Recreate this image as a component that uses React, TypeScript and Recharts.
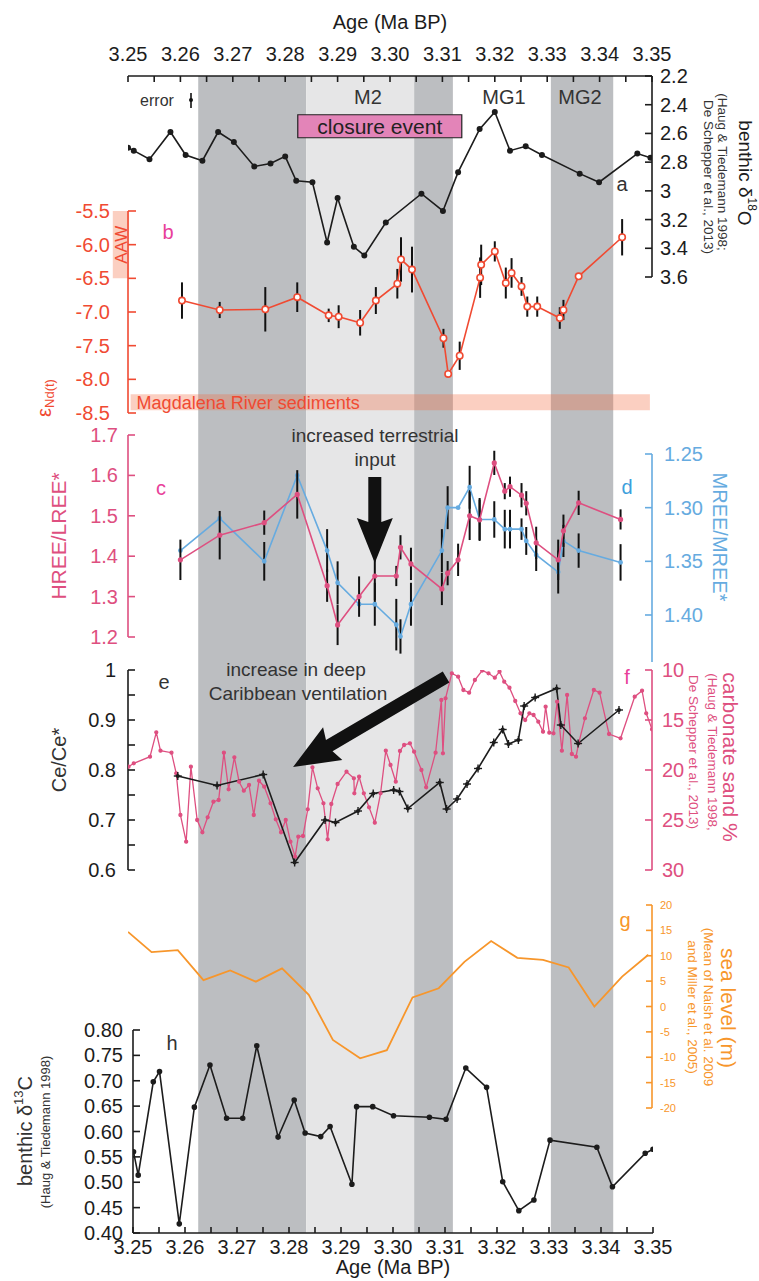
import React from "react";
import { ComposedChart, Line, XAxis, YAxis, ReferenceArea, ReferenceLine, ErrorBar } from "recharts";

const FONT = '"Liberation Sans", Arial, Helvetica, sans-serif';
const W = 759;
const H = 1281;

const INK = "#1c1c1c";
const GRAY = "#333333";
const RED = "#f04a32";
const PINK = "#de4f80";
const MAGENTA = "#e8409a";
const BLUE = "#66abe0";
const ORANGE = "#f7962b";
const DARK = "#bcbec1";
const LIGHT = "#e6e6e7";

// shared age axis
const ageDomain = [3.25, 3.35];
const ageTicks = [3.25, 3.255, 3.26, 3.265, 3.27, 3.275, 3.28, 3.285, 3.29, 3.295, 3.3, 3.305, 3.31, 3.315, 3.32, 3.325, 3.33, 3.335, 3.34, 3.345, 3.35];
const ageLabels = ["3.25", "", "3.26", "", "3.27", "", "3.28", "", "3.29", "", "3.30", "", "3.31", "", "3.32", "", "3.33", "", "3.34", "", "3.35"];

// glacial bands
const darkBands = [[3.2634, 3.284], [3.3046, 3.312], [3.3307, 3.3426]];
const lightBands = [[3.284, 3.3046]];

// a: benthic d18O
const d18oAge = [3.25, 3.2511, 3.2541, 3.2581, 3.261, 3.2642, 3.2672, 3.2702, 3.2741, 3.2772, 3.28, 3.2821, 3.2852, 3.288, 3.29, 3.2931, 3.2951, 3.2992, 3.306, 3.3101, 3.313, 3.3171, 3.32, 3.3229, 3.3259, 3.329, 3.3362, 3.3399, 3.3472, 3.3497];
const d18oVal = [2.7, 2.72, 2.78, 2.59, 2.75, 2.79, 2.59, 2.66, 2.83, 2.81, 2.76, 2.93, 2.94, 3.36, 3.05, 3.39, 3.45, 3.22, 3.02, 3.14, 2.87, 2.57, 2.45, 2.72, 2.69, 2.75, 2.88, 2.94, 2.74, 2.77];
const d18oTicks = [2.2, 2.4, 2.6, 2.8, 3.0, 3.2, 3.4, 3.6];
const d18oLabels = ["2.2", "2.4", "2.6", "2.8", "3", "3.2", "3.4", "3.6"];

// b: eNd
const ndAge = [3.2603, 3.2675, 3.2762, 3.2823, 3.2883, 3.2902, 3.2943, 3.2973, 3.3014, 3.3021, 3.3042, 3.3102, 3.3111, 3.3133, 3.3172, 3.3174, 3.32, 3.3221, 3.3232, 3.3251, 3.3262, 3.3281, 3.3324, 3.3331, 3.336, 3.3443];
const ndVal = [-6.83, -6.97, -6.96, -6.78, -7.05, -7.07, -7.16, -6.83, -6.58, -6.22, -6.37, -7.39, -7.92, -7.65, -6.49, -6.3, -6.1, -6.57, -6.42, -6.62, -6.92, -6.92, -7.09, -6.97, -6.47, -5.89];
const ndErr = [0.27, 0.12, 0.33, 0.22, 0.1, 0.17, 0.19, 0.2, 0.22, 0.33, 0.34, 0.14, 0.05, 0.21, 0.3, 0.3, 0.15, 0.23, 0.22, 0.14, 0.15, 0.15, 0.16, 0.15, 0, 0.27];
const ndTicks = [-8.5, -8, -7.5, -7, -6.5, -6, -5.5];
const ndLabels = ["-8.5", "-8.0", "-7.5", "-7.0", "-6.5", "-6.0", "-5.5"];

// c, d: REE ratios
const reeAge = [3.26, 3.2675, 3.276, 3.2823, 3.288, 3.29, 3.2941, 3.2971, 3.3012, 3.302, 3.304, 3.3099, 3.311, 3.313, 3.3152, 3.3171, 3.3199, 3.3219, 3.3229, 3.3251, 3.326, 3.3279, 3.3321, 3.3331, 3.336, 3.344];
const hreeVal = [1.391, 1.452, 1.483, 1.553, 1.327, 1.23, 1.3, 1.351, 1.351, 1.422, 1.381, 1.319, 1.358, 1.391, 1.5, 1.49, 1.631, 1.561, 1.572, 1.551, 1.531, 1.433, 1.391, 1.463, 1.532, 1.491];
const hreeErr = [0.05, 0.06, 0.03, 0.06, 0.04, 0.05, 0.05, 0.06, 0.025, 0.03, 0.04, 0.04, 0.03, 0.04, 0.06, 0.05, 0.03, 0.02, 0.025, 0.03, 0.03, 0.04, 0.05, 0.04, 0.03, 0.025];
const mreeVal = [1.34, 1.31, 1.35, 1.27, 1.34, 1.37, 1.39, 1.39, 1.409, 1.42, 1.39, 1.34, 1.3, 1.3, 1.281, 1.311, 1.311, 1.32, 1.32, 1.32, 1.331, 1.344, 1.36, 1.331, 1.34, 1.351];
const mreeErr = [0, 0, 0.018, 0, 0.02, 0.02, 0, 0.02, 0.024, 0.016, 0.02, 0.02, 0.02, 0, 0.02, 0.02, 0.017, 0.018, 0.018, 0.01, 0.013, 0.015, 0.02, 0.015, 0.016, 0.017];
const hreeTicks = [1.2, 1.3, 1.4, 1.5, 1.6, 1.7];
const hreeLabels = ["1.2", "1.3", "1.4", "1.5", "1.6", "1.7"];
const mreeTicks = [1.25, 1.3, 1.35, 1.4];
const mreeLabels = ["1.25", "1.30", "1.35", "1.40"];

// e: Ce/Ce*
const ceAge = [3.2595, 3.267, 3.2758, 3.2818, 3.2876, 3.2896, 3.2939, 3.2968, 3.3007, 3.3018, 3.3034, 3.3095, 3.3108, 3.3128, 3.3147, 3.3168, 3.3198, 3.3215, 3.3226, 3.3245, 3.3256, 3.3277, 3.3318, 3.3326, 3.3359, 3.3437];
const ceVal = [0.788, 0.769, 0.791, 0.615, 0.7, 0.695, 0.718, 0.753, 0.76, 0.757, 0.723, 0.775, 0.722, 0.742, 0.772, 0.803, 0.855, 0.881, 0.852, 0.86, 0.928, 0.945, 0.963, 0.89, 0.853, 0.92];
const ceTicks = [0.6, 0.65, 0.7, 0.75, 0.8, 0.85, 0.9, 0.95, 1];
const ceLabels = ["0.6", "", "0.7", "", "0.8", "", "0.9", "", "1"];

// f: carbonate sand %
const carbAge = [3.2501, 3.2511, 3.2542, 3.2554, 3.2562, 3.2583, 3.2592, 3.26, 3.2611, 3.262, 3.2632, 3.2642, 3.2652, 3.2663, 3.2673, 3.2683, 3.2692, 3.2703, 3.2712, 3.2721, 3.2731, 3.274, 3.275, 3.276, 3.2772, 3.2782, 3.2792, 3.2801, 3.281, 3.2819, 3.2825, 3.2834, 3.2843, 3.2852, 3.2862, 3.2873, 3.2881, 3.2888, 3.29, 3.2917, 3.2931, 3.2932, 3.2941, 3.295, 3.296, 3.2971, 3.2982, 3.2992, 3.3001, 3.3011, 3.3019, 3.3027, 3.3038, 3.3046, 3.306, 3.3069, 3.3087, 3.3098, 3.3101, 3.3106, 3.3118, 3.313, 3.314, 3.3151, 3.3162, 3.3176, 3.3188, 3.32, 3.3209, 3.3218, 3.3228, 3.3239, 3.3249, 3.3258, 3.3266, 3.3274, 3.3283, 3.3292, 3.3297, 3.3304, 3.3312, 3.3319, 3.3328, 3.3338, 3.3347, 3.3355, 3.336, 3.3372, 3.3389, 3.34, 3.3418, 3.344, 3.3467, 3.3481, 3.3489, 3.35];
const carbVal = [19.67, 19.33, 18.67, 16.23, 18.07, 18.27, 20.33, 24.5, 27.17, 19.67, 25.0, 26.23, 24.73, 23.17, 23.0, 18.27, 21.93, 18.73, 21.17, 22.07, 21.5, 24.5, 21.07, 21.67, 23.33, 24.93, 26.23, 25.0, 27.17, 28.67, 26.67, 26.6, 23.93, 19.73, 21.83, 23.33, 26.93, 23.4, 21.4, 20.17, 20.83, 22.33, 20.67, 22.33, 23.73, 25.27, 22.33, 18.07, 19.5, 21.17, 18.1, 17.5, 17.33, 18.17, 20.0, 21.73, 18.27, 13.0, 18.33, 12.83, 10.33, 10.67, 12.0, 12.27, 11.0, 10.05, 10.33, 10.77, 10.17, 11.17, 11.77, 13.1, 14.33, 15.0, 14.33, 14.5, 15.17, 16.17, 13.67, 16.27, 16.33, 13.17, 18.07, 12.5, 18.4, 18.67, 17.33, 14.83, 12.0, 12.27, 16.4, 16.83, 12.67, 12.07, 14.33, 15.93];
const carbTicks = [10, 15, 20, 25, 30];
const carbLabels = ["10", "15", "20", "25", "30"];

// g: sea level
const seaAge = [3.25, 3.2545, 3.2595, 3.2644, 3.2695, 3.2744, 3.2794, 3.2845, 3.2891, 3.2943, 3.2994, 3.3043, 3.3093, 3.3142, 3.3193, 3.3243, 3.3292, 3.3341, 3.339, 3.3443, 3.3493];
const seaVal = [14.7, 10.7, 11.1, 5.2, 7.1, 4.9, 7.5, 2.3, -6.6, -10.2, -8.6, 1.8, 3.6, 8.8, 12.9, 9.6, 9.2, 7.7, 0.0, 5.9, 10.2];
const seaTicks = [-20, -15, -10, -5, 0, 5, 10, 15, 20];
const seaLabels = ["-20", "-15", "-10", "-5", "0", "5", "10", "15", "20"];

// h: benthic d13C
const d13cAge = [3.2501, 3.251, 3.2539, 3.2551, 3.2589, 3.2618, 3.2648, 3.268, 3.2711, 3.2738, 3.2779, 3.281, 3.2831, 3.2861, 3.2879, 3.2921, 3.293, 3.2961, 3.3001, 3.307, 3.3102, 3.314, 3.318, 3.3211, 3.3242, 3.3271, 3.3302, 3.3392, 3.3422, 3.3485, 3.35];
const d13cVal = [0.56, 0.514, 0.698, 0.718, 0.418, 0.648, 0.731, 0.626, 0.626, 0.769, 0.589, 0.662, 0.597, 0.59, 0.61, 0.496, 0.649, 0.649, 0.631, 0.628, 0.624, 0.725, 0.687, 0.501, 0.444, 0.465, 0.583, 0.569, 0.491, 0.557, 0.565];
const d13cTicks = [0.4, 0.45, 0.5, 0.55, 0.6, 0.65, 0.7, 0.75, 0.8];
const d13cLabels = ["0.40", "0.45", "0.50", "0.55", "0.60", "0.65", "0.70", "0.75", "0.80"];

// annotation arrows (age, value)
const terrArrow = [{ x: 3.2971, y: 1.596 }, { x: 3.2971, y: 1.383 }];
const ventArrow = [{ x: 3.3107, y: 0.986 }, { x: 3.2815, y: 0.806 }];

const rows = (x: number[], cols: Record<string, number[]>) =>
  x.map((age, i) => {
    const r: any = { age };
    Object.keys(cols).forEach((k) => (r[k] = cols[k][i]));
    return r;
  });

const d18oData = rows(d18oAge, { v: d18oVal });
const ndData = rows(ndAge, { v: ndVal, err: ndErr });
const reeData = rows(reeAge, { hree: hreeVal, hErr: hreeErr, mree: mreeVal, mErr: mreeErr });
const ceData = rows(ceAge, { v: ceVal });
const carbData = rows(carbAge, { v: carbVal });
const seaData = rows(seaAge, { v: seaVal });
const d13cData = rows(d13cAge, { v: d13cVal });
const bandData = rows(ageDomain, { v: [0, 1] });

const yTick = (side: "left" | "right", color: string, ticks: number[], labels: string[], o: { size?: number; len?: number; gap?: number } = {}) => {
  const { size = 20, len = 7, gap = 8 } = o;
  const dir = side === "left" ? 1 : -1;
  return (p: any) => {
    const i = ticks.findIndex((t) => Math.abs(t - p.payload.value) < 1e-6);
    const label = i >= 0 ? labels[i] : "";
    return (
      <g>
        <line x1={p.x} y1={p.y} x2={p.x + dir * len} y2={p.y} stroke={color} strokeWidth={1.6} />
        {label ? (
          <text x={p.x - dir * gap} y={p.y} textAnchor={side === "left" ? "end" : "start"} dominantBaseline="central" fill={color} fontSize={size} fontFamily={FONT}>
            {label}
          </text>
        ) : null}
      </g>
    );
  };
};

const xTick = (side: "top" | "bottom", ticks: number[], labels: string[], gap: number) => {
  const dir = side === "top" ? 1 : -1;
  return (p: any) => {
    const i = ticks.findIndex((t) => Math.abs(t - p.payload.value) < 1e-6);
    const label = i >= 0 ? labels[i] : "";
    return (
      <g>
        <line x1={p.x} y1={p.y} x2={p.x} y2={p.y + dir * 6} stroke={INK} strokeWidth={1.6} />
        {label ? (
          <text x={p.x} y={p.y - dir * gap} textAnchor="middle" dominantBaseline="central" fill={INK} fontSize={20} fontFamily={FONT}>
            {label}
          </text>
        ) : null}
      </g>
    );
  };
};

const arrowShape = (shaft: number, headLen: number, headW: number) => (p: any) => {
  const { x1, y1, x2, y2 } = p;
  const L = Math.hypot(x2 - x1, y2 - y1) || 1;
  const ux = (x2 - x1) / L;
  const uy = (y2 - y1) / L;
  const nx = -uy;
  const ny = ux;
  const bx = x2 - ux * headLen;
  const by = y2 - uy * headLen;
  const pts = [
    [x1 + (nx * shaft) / 2, y1 + (ny * shaft) / 2],
    [bx + (nx * shaft) / 2, by + (ny * shaft) / 2],
    [bx + (nx * headW) / 2 - ux * 4, by + (ny * headW) / 2 - uy * 4],
    [x2, y2],
    [bx - (nx * headW) / 2 - ux * 4, by - (ny * headW) / 2 - uy * 4],
    [bx - (nx * shaft) / 2, by - (ny * shaft) / 2],
    [x1 - (nx * shaft) / 2, y1 - (ny * shaft) / 2],
  ];
  return <polygon points={pts.map((q) => q.join(",")).join(" ")} fill="#111" />;
};

const crossDot = (p: any) => (
  <g key={`ce-${p.index}`}>
    <line x1={p.cx - 4} x2={p.cx + 4} y1={p.cy} y2={p.cy} stroke={INK} strokeWidth={1.4} />
    <line x1={p.cx} x2={p.cx} y1={p.cy - 4} y2={p.cy + 4} stroke={INK} strokeWidth={1.4} />
    <circle cx={p.cx} cy={p.cy} r={2} fill={INK} />
  </g>
);

const Sheet = ({ children }: { children: React.ReactNode }) => (
  <div style={{ position: "absolute", left: 0, top: 0, width: W, height: H }}>{children}</div>
);

const hiddenX = <XAxis type="number" dataKey="age" domain={ageDomain} hide allowDataOverflow />;

const T = ({ x, y, s = 20, c = GRAY, rot = 0, a = "middle", children }: any) => (
  <text x={x} y={y} fontSize={s} fill={c} textAnchor={a} dominantBaseline="central" fontFamily={FONT} transform={rot ? `rotate(${rot} ${x} ${y})` : undefined}>
    {children}
  </text>
);

export default function App() {
  return (
    <div style={{ position: "absolute", left: 0, top: 0, width: W, height: H, background: "#fff", fontFamily: FONT }}>
      {/* bands + top age axis */}
      <Sheet>
        <ComposedChart width={W} height={H} data={bandData} margin={{ top: 36, bottom: 48, left: 128, right: 107 }}>
          <XAxis type="number" dataKey="age" domain={ageDomain} orientation="top" height={40} ticks={ageTicks} interval={0} tickSize={0} tickMargin={0} tick={xTick("top", ageTicks, ageLabels, 22)} tickLine={false} axisLine={{ stroke: INK, strokeWidth: 1.6 }} allowDataOverflow />
          <YAxis type="number" dataKey="v" domain={[0, 1]} hide allowDataOverflow />
          {darkBands.map((b, i) => (
            <ReferenceArea key={`d${i}`} x1={b[0]} x2={b[1]} y1={0} y2={1} fill={DARK} fillOpacity={1} stroke="none" />
          ))}
          {lightBands.map((b, i) => (
            <ReferenceArea key={`l${i}`} x1={b[0]} x2={b[1]} y1={0} y2={1} fill={LIGHT} fillOpacity={1} stroke="none" />
          ))}
          <Line dataKey="v" stroke="none" dot={false} isAnimationActive={false} />
        </ComposedChart>
      </Sheet>

      {/* a */}
      <Sheet>
        <ComposedChart width={W} height={H} data={d18oData} margin={{ top: 76, bottom: H - 277, left: 128, right: 47 }}>
          {hiddenX}
          <YAxis orientation="right" type="number" domain={[2.2, 3.6]} reversed width={60} ticks={d18oTicks} interval={0} tickSize={0} tickMargin={0} tick={yTick("right", INK, d18oTicks, d18oLabels)} tickLine={false} axisLine={{ stroke: INK, strokeWidth: 1.6 }} allowDataOverflow />
          <ReferenceArea x1={3.2824} x2={3.3137} y1={2.47} y2={2.63} fill="#e384b8" fillOpacity={1} stroke="#222" strokeWidth={1.2} label={{ value: "closure event", position: "center", fontSize: 21, fill: "#222", fontFamily: FONT }} />
          <Line dataKey="v" stroke={INK} strokeWidth={1.6} dot={{ r: 2.2, fill: INK, stroke: INK }} isAnimationActive={false} />
        </ComposedChart>
      </Sheet>

      {/* b */}
      <Sheet>
        <ComposedChart width={W} height={H} data={ndData} margin={{ top: 211, bottom: H - 413, left: 68, right: 107 }}>
          {hiddenX}
          <YAxis orientation="left" type="number" domain={[-8.5, -5.5]} width={60} ticks={ndTicks} interval={0} tickSize={0} tickMargin={0} tick={yTick("left", RED, ndTicks, ndLabels, { gap: 18, len: 8 })} tickLine={false} axisLine={{ stroke: RED, strokeWidth: 1.6 }} allowDataOverflow />
          <ReferenceArea x1={3.2471} x2={3.2502} y1={-5.5} y2={-6.5} fill="#f26a3d" fillOpacity={0.32} stroke="none" ifOverflow="visible" label={{ value: "AAW", position: "center", angle: -90, fontSize: 17, fill: RED, fontFamily: FONT }} />
          <ReferenceArea x1={3.2505} x2={3.3496} y1={-8.22} y2={-8.46} fill="#f26a3d" fillOpacity={0.32} stroke="none" label={{ value: "Magdalena River sediments", position: "insideLeft", offset: 6, fontSize: 18, fill: RED, fontFamily: FONT }} />
          <Line dataKey="v" stroke={RED} strokeWidth={1.6} dot={{ r: 3.2, fill: "#fff", stroke: RED, strokeWidth: 1.6 }} isAnimationActive={false}>
            <ErrorBar dataKey="err" width={0} stroke="#111" strokeWidth={2} direction="y" />
          </Line>
        </ComposedChart>
      </Sheet>

      {/* d (blue, under c) */}
      <Sheet>
        <ComposedChart width={W} height={H} data={reeData} margin={{ top: 454, bottom: H - 662, left: 128, right: 47 }}>
          {hiddenX}
          <YAxis orientation="right" type="number" domain={[1.25, 1.4438]} reversed width={60} ticks={mreeTicks} interval={0} tickSize={0} tickMargin={0} tick={yTick("right", BLUE, mreeTicks, mreeLabels, { gap: 12 })} tickLine={false} axisLine={{ stroke: BLUE, strokeWidth: 1.6 }} allowDataOverflow />
          <Line dataKey="mree" stroke={BLUE} strokeWidth={1.6} dot={{ r: 1.6, fill: BLUE, stroke: BLUE }} isAnimationActive={false}>
            <ErrorBar dataKey="mErr" width={0} stroke="#111" strokeWidth={2} direction="y" />
          </Line>
        </ComposedChart>
      </Sheet>

      {/* c */}
      <Sheet>
        <ComposedChart width={W} height={H} data={reeData} margin={{ top: 435, bottom: H - 637, left: 68, right: 107 }}>
          {hiddenX}
          <YAxis orientation="left" type="number" domain={[1.2, 1.7]} width={60} ticks={hreeTicks} interval={0} tickSize={0} tickMargin={0} tick={yTick("left", PINK, hreeTicks, hreeLabels, { gap: 10 })} tickLine={false} axisLine={{ stroke: PINK, strokeWidth: 1.6 }} allowDataOverflow />
          <Line dataKey="hree" stroke={PINK} strokeWidth={1.6} dot={{ r: 1.8, fill: PINK, stroke: PINK }} isAnimationActive={false}>
            <ErrorBar dataKey="hErr" width={0} stroke="#111" strokeWidth={2} direction="y" />
          </Line>
          <ReferenceLine segment={terrArrow} ifOverflow="visible" shape={arrowShape(13, 41, 36)} />
        </ComposedChart>
      </Sheet>

      {/* e, f */}
      <Sheet>
        <ComposedChart width={W} height={H} margin={{ top: 670, bottom: H - 870, left: 68, right: 47 }}>
          {hiddenX}
          <YAxis yAxisId="e" orientation="left" type="number" domain={[0.6, 1]} width={60} ticks={ceTicks} interval={0} tickSize={0} tickMargin={0} tick={yTick("left", INK, ceTicks, ceLabels, { gap: 12 })} tickLine={false} axisLine={{ stroke: INK, strokeWidth: 1.6 }} allowDataOverflow />
          <YAxis yAxisId="f" orientation="right" type="number" domain={[10, 30]} reversed width={60} ticks={carbTicks} interval={0} tickSize={0} tickMargin={0} tick={yTick("right", PINK, carbTicks, carbLabels, { gap: 10 })} tickLine={false} axisLine={{ stroke: PINK, strokeWidth: 1.6 }} allowDataOverflow />
          <Line yAxisId="f" data={carbData} dataKey="v" stroke={PINK} strokeWidth={1.3} dot={{ r: 1.5, fill: PINK, stroke: PINK }} isAnimationActive={false} />
          <Line yAxisId="e" data={ceData} dataKey="v" stroke={INK} strokeWidth={1.6} dot={crossDot} isAnimationActive={false} />
          <ReferenceLine yAxisId="e" segment={ventArrow} ifOverflow="visible" shape={arrowShape(13, 42, 38)} />
        </ComposedChart>
      </Sheet>

      {/* g */}
      <Sheet>
        <ComposedChart width={W} height={H} data={seaData} margin={{ top: 905, bottom: H - 1108, left: 128, right: 47 }}>
          {hiddenX}
          <YAxis orientation="right" type="number" domain={[-20, 20]} width={60} ticks={seaTicks} interval={0} tickSize={0} tickMargin={0} tick={yTick("right", ORANGE, seaTicks, seaLabels, { size: 11, len: 6, gap: 8 })} tickLine={false} axisLine={{ stroke: ORANGE, strokeWidth: 1.6 }} allowDataOverflow />
          <Line dataKey="v" stroke={ORANGE} strokeWidth={1.8} dot={false} isAnimationActive={false} />
        </ComposedChart>
      </Sheet>

      {/* h + bottom age axis */}
      <Sheet>
        <ComposedChart width={W} height={H} data={d13cData} margin={{ top: 1030, bottom: 8, left: 73, right: 106 }}>
          <XAxis type="number" dataKey="age" domain={ageDomain} orientation="bottom" height={40} ticks={ageTicks} interval={0} tickSize={0} tickMargin={0} tick={xTick("bottom", ageTicks, ageLabels, 14)} tickLine={false} axisLine={{ stroke: INK, strokeWidth: 1.6 }} allowDataOverflow />
          <YAxis orientation="left" type="number" domain={[0.4, 0.8]} width={60} ticks={d13cTicks} interval={0} tickSize={0} tickMargin={0} tick={yTick("left", INK, d13cTicks, d13cLabels, { gap: 10 })} tickLine={false} axisLine={{ stroke: INK, strokeWidth: 1.6 }} allowDataOverflow />
          <Line dataKey="v" stroke={INK} strokeWidth={1.6} dot={{ r: 2, fill: INK, stroke: INK }} isAnimationActive={false} />
        </ComposedChart>
      </Sheet>

      {/* text overlay */}
      <svg width={W} height={H} style={{ position: "absolute", left: 0, top: 0, pointerEvents: "none" }}>
        <T x={390} y={22} c={INK}>Age (Ma BP)</T>
        <T x={393} y={1267} c={INK}>Age (Ma BP)</T>

        <T x={157} y={100} s={16}>error</T>
        <line x1={191} y1={93} x2={191} y2={108} stroke="#111" strokeWidth={1.6} />
        <circle cx={191} cy={100} r={2} fill="#111" />
        <T x={368} y={97}>M2</T>
        <T x={504} y={97}>MG1</T>
        <T x={580} y={97}>MG2</T>
        <T x={622} y={184}>a</T>

        <T x={745} y={173} rot={90} s={19} c={INK}>
          benthic δ<tspan dy={-7} fontSize={12}>18</tspan>
          <tspan dy={7}>O</tspan>
        </T>
        <T x={722} y={172} rot={90} s={13.5} c={GRAY}>(Haug &amp; Tiedemann 1998;</T>
        <T x={708} y={177} rot={90} s={13.5} c={GRAY}>De Schepper et al., 2013)</T>

        <T x={168} y={232} c={MAGENTA}>b</T>
        <T x={44} y={398} rot={-90} c={RED}>
          ε<tspan dy={5} fontSize={13}>Nd(t)</tspan>
        </T>

        <T x={161} y={488} c={MAGENTA}>c</T>
        <T x={627} y={487} c="#3d9fdc">d</T>
        <T x={58} y={536} rot={-90} s={21} c={PINK}>HREE/LREE*</T>
        <T x={720} y={537} rot={90} c={BLUE}>MREE/MREE*</T>
        <T x={375} y={435} s={19}>increased terrestrial</T>
        <T x={375} y={459} s={19}>input</T>

        <T x={164} y={682}>e</T>
        <T x={627} y={677} c={MAGENTA}>f</T>
        <T x={59} y={760} rot={-90}>Ce/Ce*</T>
        <T x={296} y={669} s={19}>increase in deep</T>
        <T x={298} y={693} s={19}>Caribbean ventilation</T>
        <T x={730} y={757} rot={90} s={21} c={PINK}>carbonate sand %</T>
        <T x={712} y={752} rot={90} s={13.5} c={PINK}>(Haug &amp; Tiedemann 1998,</T>
        <T x={693} y={752} rot={90} s={13.5} c={PINK}>De Schepper et al., 2013)</T>

        <T x={625} y={920} c={ORANGE}>g</T>
        <T x={728} y={1008} rot={90} s={21} c={ORANGE}>sea level (m)</T>
        <T x={708} y={1007} rot={90} s={13.5} c={ORANGE}>(Mean of Naish et al. 2009</T>
        <T x={692} y={1007} rot={90} s={13.5} c={ORANGE}>and Miller et al., 2005)</T>

        <T x={172} y={1043}>h</T>
        <T x={25} y={1131} rot={-90}>
          benthic δ<tspan dy={-7} fontSize={13}>13</tspan>
          <tspan dy={7}>C</tspan>
        </T>
        <T x={45} y={1132} rot={-90} s={13}>(Haug &amp; Tiedemann 1998)</T>
      </svg>
    </div>
  );
}
